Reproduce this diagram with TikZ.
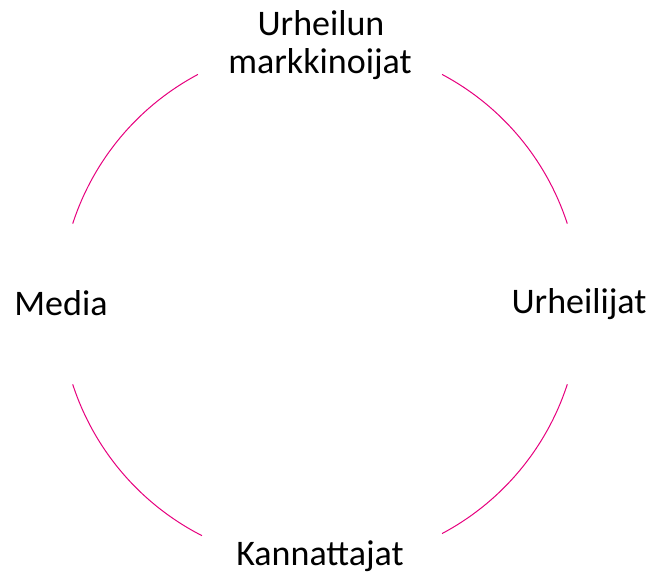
\documentclass[tikz,border=0pt]{standalone}
\usepackage{fontspec}
\setmainfont{Carlito}
\definecolor{arcpink}{RGB}{230,0,126}
\begin{document}
\begin{tikzpicture}[x=1pt,y=1pt,
  lbl/.style={font=\fontsize{36}{38}\selectfont, anchor=base, inner sep=0pt, align=center},
  ring/.style={draw=arcpink, line width=1pt}]
\useasboundingbox (0,0) rectangle (650,580);
\coordinate (c) at (320,276);
\node[lbl] (top1) at (321,544) {Urheilun};
\node[lbl] (top2) at (320,506) {markkinoijat};
\node[lbl] (right) at (579,266) {Urheilijat};
\node[lbl] (bottom) at (320,14) {Kannattajat};
\node[lbl] (left) at (61,264) {Media};
\draw[ring] (c) ++(18:260) arc[start angle=18, end angle=62, radius=260];
\draw[ring] (c) ++(118:260) arc[start angle=118, end angle=162, radius=260];
\draw[ring] (c) ++(198:260) arc[start angle=198, end angle=243, radius=260];
\draw[ring] (c) ++(298:260) arc[start angle=298, end angle=342, radius=260];
\end{tikzpicture}
\end{document}
